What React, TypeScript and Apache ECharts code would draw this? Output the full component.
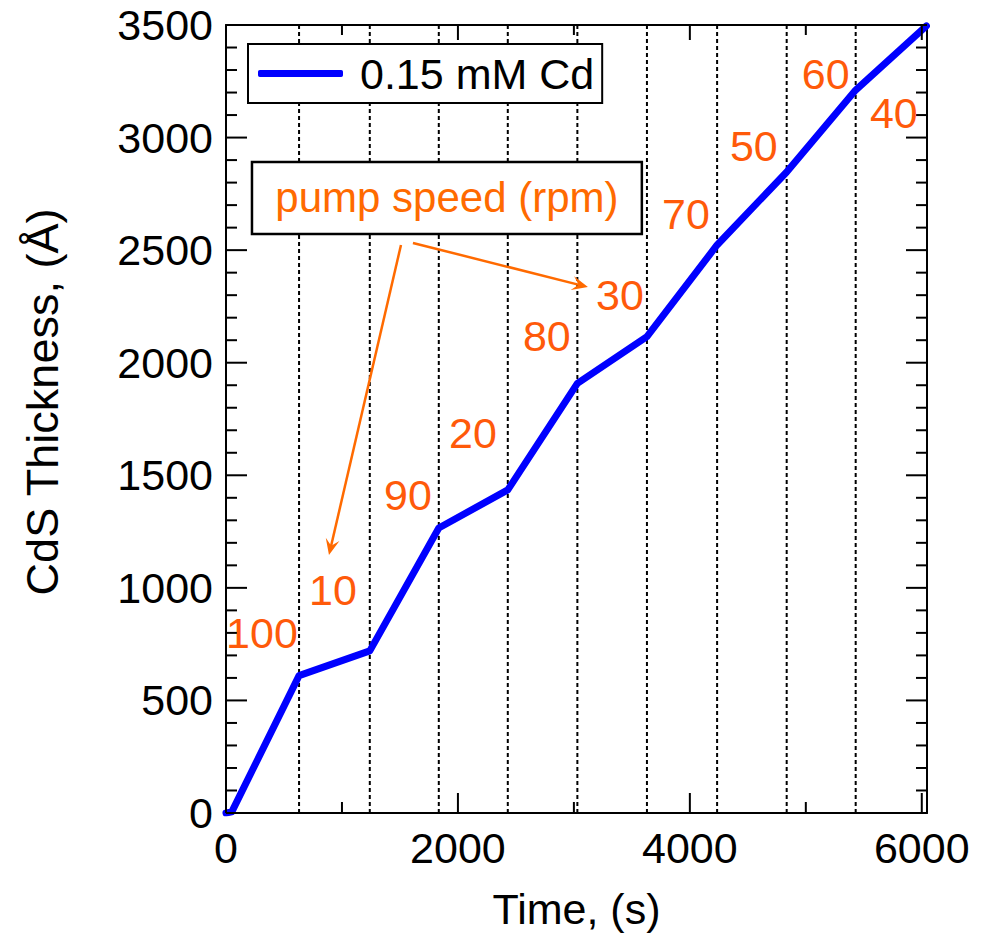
import React, { useEffect, useRef } from 'react';
import * as echarts from 'echarts';

// Deposition curve: time (s) vs CdS thickness (Å)
const timeS = [0, 50, 630, 1240, 1835, 2430, 3030, 3630, 4235, 4835, 5430, 6040];
const thicknessA = [0, 5, 610, 720, 1266, 1435, 1908, 2116, 2523, 2847, 3211, 3496];
// Pump-speed switch times (dotted lines)
const switchTimes = [630, 1240, 1835, 2430, 3030, 3630, 4235, 4835, 5430];
// Pump-speed labels (rpm) and their anchor positions in data units
const rpmLabels = ['100', '10', '90', '20', '80', '30', '70', '50', '60', '40'];
const rpmLabelX = [310, 922, 1569, 2129, 2767, 3397, 3966, 4552, 5172, 5759];
const rpmLabelY = [800, 990, 1412, 1688, 2119, 2301, 2661, 2963, 3282, 3109];
// Axis settings
const xMax = 6045;
const xInterval = 2000;
const xMinorInterval = 1000;
const yMax = 3500;
const yInterval = 500;
const yMinorInterval = 100;
const seriesName = '0.15 mM Cd';
const boxText = 'pump speed (rpm)';
// annotation box corners and arrows in data units
const boxCorner1 = [224, 2892];
const boxCorner2 = [3586, 2572];
const arrowStarts = [[1509, 2523], [1612, 2532]];
const arrowTips = [[888, 1146], [3121, 2336]];

const FONT = "'Liberation Sans', Arial, Helvetica, sans-serif";
const ORANGE_NUM = '#ff5a0a';
const ORANGE = '#ff6a00';
const TICK_COLOR = '#000';

export default function App() {
  const ref = useRef<HTMLDivElement>(null);
  useEffect(() => {
    document.body.style.margin = '0';
    if (!ref.current) return;
    const chart = echarts.init(ref.current, undefined, { renderer: 'svg' });
    const axisCommon = {
      axisLine: { show: true, onZero: false, lineStyle: { color: '#000', width: 2 } },
      splitLine: { show: false },
      axisTick: { show: false },
      minorTick: { show: false },
    };
    const xAxisBase = (pos: string, showLabel: boolean) => ({
      type: 'value',
      position: pos,
      min: 0,
      max: xMax,
      interval: xInterval,
      ...axisCommon,
      axisLabel: {
        show: showLabel,
        fontSize: 43,
        fontFamily: FONT,
        color: '#000',
        margin: 13,
        formatter: (v: number) => (v % xInterval === 0 ? String(v) : ''),
      },
    });
    const yAxisBase = (pos: string, showLabel: boolean) => ({
      type: 'value',
      position: pos,
      min: 0,
      max: yMax,
      interval: yInterval,
      ...axisCommon,
      axisLabel: {
        show: showLabel,
        fontSize: 43,
        fontFamily: FONT,
        color: '#000',
        margin: 13,
        formatter: (v: number) => String(v),
      },
    });
    const xBottom: any = xAxisBase('bottom', true);
    xBottom.name = 'Time, (s)';
    xBottom.nameLocation = 'middle';
    xBottom.nameGap = 74;
    xBottom.nameTextStyle = { fontSize: 43, fontFamily: FONT, color: '#000' };

    const dottedSeries = switchTimes.map((t) => ({
      type: 'line',
      silent: true,
      symbol: 'none',
      data: [[t, 0], [t, yMax]],
      lineStyle: { color: '#000', width: 2, type: [4, 3], opacity: 1 },
      z: 1,
    }));

    // tick data: [value, kind] kind 0=x major, 1=x minor, 2=y major, 3=y minor
    const tickData: number[][] = [];
    for (let v = 0; v <= 6000; v += xMinorInterval) tickData.push([v, v % xInterval === 0 ? 0 : 1]);
    for (let v = 0; v <= yMax; v += yMinorInterval) tickData.push([v, v % yInterval === 0 ? 2 : 3]);

    const tickSeries = {
      type: 'custom',
      silent: true,
      clip: false,
      z: 15,
      encode: { x: -1, y: -1 },
      dimensions: ['v', 'kind'],
      data: tickData,
      renderItem: (params: any, api: any) => {
        const v = api.value(0);
        const kind = api.value(1);
        const st = { stroke: TICK_COLOR, lineWidth: 2 };
        if (kind < 2) {
          const b = api.coord([v, 0]);
          const t = api.coord([v, yMax]);
          const lb = kind === 0 ? 20 : 11;
          const lt = kind === 0 ? 15 : 10;
          return {
            type: 'group',
            children: [
              { type: 'line', shape: { x1: b[0], y1: b[1], x2: b[0], y2: b[1] - lb }, style: st },
              { type: 'line', shape: { x1: t[0], y1: t[1], x2: t[0], y2: t[1] + lt }, style: { ...st } },
            ],
          };
        }
        const l = api.coord([0, v]);
        const r = api.coord([xMax, v]);
        const len = kind === 2 ? 21 : 11;
        return {
          type: 'group',
          children: [
            { type: 'line', shape: { x1: l[0], y1: l[1], x2: l[0] + len, y2: l[1] }, style: st },
            { type: 'line', shape: { x1: r[0], y1: r[1], x2: r[0] - len, y2: r[1] }, style: { ...st } },
          ],
        };
      },
    };

    chart.setOption({
      animation: false,
      backgroundColor: '#fff',
      grid: { left: 226, top: 25, width: 701, height: 788, containLabel: false },
      xAxis: [xBottom, xAxisBase('top', false)],
      yAxis: [yAxisBase('left', true), yAxisBase('right', false)],
      legend: {
        left: 248,
        top: 44,
        orient: 'horizontal',
        padding: [8, 8, 8, 10],
        borderColor: '#000',
        borderWidth: 2,
        borderRadius: 0,
        backgroundColor: '#fff',
        itemWidth: 85,
        itemHeight: 7,
        z: 20,
        data: [{ name: seriesName, icon: 'roundRect' }],
        textStyle: { fontSize: 43, fontFamily: FONT, color: '#000', padding: [0, 0, 0, 12] },
        selectedMode: false,
      },
      series: [
        ...dottedSeries,
        tickSeries,
        {
          name: seriesName,
          type: 'line',
          data: timeS.map((t, i) => [t, thicknessA[i]]),
          symbol: 'none',
          itemStyle: { color: '#0000ff' },
          lineStyle: { color: '#0000ff', width: 7, cap: 'round', join: 'round' },
          z: 5,
        },
      ],
    });

    const px = (p: number[]) => chart.convertToPixel({ gridIndex: 0 }, p) as number[];
    const graphics: any[] = [];
    graphics.push({
      type: 'text',
      x: 42,
      y: 402,
      rotation: Math.PI / 2,
      z: 30,
      style: {
        text: 'CdS Thickness, (Å)',
        fontSize: 45,
        fontFamily: FONT,
        fill: '#000',
        align: 'center',
        verticalAlign: 'middle',
      },
    });
    const c1 = px(boxCorner1);
    const c2 = px(boxCorner2);
    graphics.push({
      type: 'rect',
      z: 20,
      shape: { x: c1[0], y: c1[1], width: c2[0] - c1[0], height: c2[1] - c1[1] },
      style: { fill: '#fff', stroke: '#000', lineWidth: 2.5 },
    });
    graphics.push({
      type: 'text',
      z: 21,
      x: (c1[0] + c2[0]) / 2,
      y: (c1[1] + c2[1]) / 2,
      style: {
        text: boxText,
        fontSize: 42,
        fontFamily: FONT,
        fill: ORANGE,
        align: 'center',
        verticalAlign: 'middle',
      },
    });
    arrowStarts.forEach((s, i) => {
      const a = px(s);
      const b = px(arrowTips[i]);
      const dx = b[0] - a[0];
      const dy = b[1] - a[1];
      const len = Math.hypot(dx, dy);
      const ux = dx / len;
      const uy = dy / len;
      const nx = -uy;
      const ny = ux;
      const L = 16;
      const W = 7;
      graphics.push({
        type: 'line',
        z: 20,
        shape: { x1: a[0], y1: a[1], x2: b[0] - ux * 8, y2: b[1] - uy * 8 },
        style: { stroke: ORANGE, lineWidth: 2.5 },
      });
      graphics.push({
        type: 'polygon',
        z: 20,
        shape: {
          points: [
            [b[0], b[1]],
            [b[0] - ux * L + nx * W, b[1] - uy * L + ny * W],
            [b[0] - ux * L * 0.6, b[1] - uy * L * 0.6],
            [b[0] - ux * L - nx * W, b[1] - uy * L - ny * W],
          ],
        },
        style: { fill: ORANGE },
      });
    });
    rpmLabels.forEach((t, i) => {
      const p = px([rpmLabelX[i], rpmLabelY[i]]);
      graphics.push({
        type: 'text',
        z: 20,
        x: p[0],
        y: p[1],
        style: {
          text: t,
          fontSize: 43,
          fontFamily: FONT,
          fill: ORANGE_NUM,
          align: 'center',
          verticalAlign: 'middle',
        },
      });
    });
    chart.setOption({ graphic: graphics });

    return () => chart.dispose();
  }, []);
  return <div ref={ref} style={{ width: 991, height: 935 }} />;
}
